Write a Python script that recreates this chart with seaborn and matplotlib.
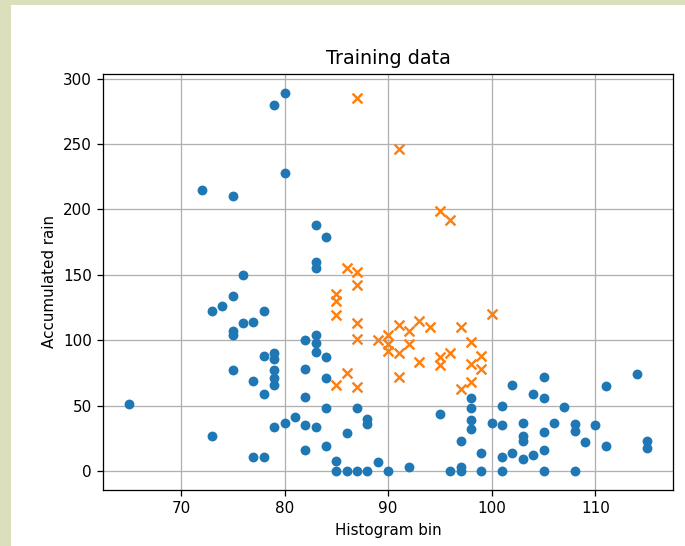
import matplotlib
matplotlib.use('Agg')
import matplotlib.pyplot as plt
from matplotlib.patches import Rectangle
import seaborn as sns

# class 0 (no rain event) - blue dots
blue_x = [79, 80, 80, 72, 75, 76,
          75, 74, 73, 78, 76, 77, 75, 75,
          78, 79, 79, 79, 79, 79, 75, 77, 78,
          65, 73, 79, 80, 77, 78,
          83, 84, 83, 83,
          82, 83, 83, 83, 84, 82, 84, 82, 84, 87, 88, 88, 81, 82, 83, 86,
          82, 84, 85, 85, 86, 87, 88, 89, 90, 92,
          95, 96, 97, 97, 98, 98, 98, 98, 97, 99, 99,
          100, 101, 101, 101, 101, 102, 102, 103, 103, 103, 103,
          104, 104, 105, 105, 105, 105, 105, 106, 107, 108, 108, 108,
          109, 110, 111, 111, 114, 115, 115]
blue_y = [280, 289, 228, 215, 210, 150,
          134, 126, 122, 122, 113, 114, 107, 104,
          88, 90, 86, 77, 71, 66, 77, 69, 59,
          51, 27, 34, 37, 11, 11,
          188, 179, 160, 155,
          100, 104, 98, 91, 87, 78, 71, 57, 48, 48, 40, 36, 41, 35, 34, 29,
          16, 19, 8, 0, 0, 0, 0, 7, 0, 3,
          44, 0, 0, 3, 56, 48, 39, 32, 23, 14, 0,
          37, 50, 35, 11, 0, 66, 14, 37, 27, 23, 9,
          59, 12, 72, 56, 30, 16, 0, 37, 49, 36, 31, 0,
          22, 35, 65, 19, 74, 23, 18]

# class 1 (rain event) - orange crosses
orange_x = [87, 91, 95, 96, 86, 87, 87, 85, 85, 85, 87, 87,
            86, 85, 87, 89, 90, 90, 90, 91, 92, 93, 94, 92, 91, 93, 91,
            95, 95, 96, 97, 98, 98, 98, 97, 100, 99, 99]
orange_y = [285, 246, 199, 192, 155, 152, 142, 135, 130, 119, 113, 101,
            75, 66, 64, 100, 104, 97, 92, 112, 107, 115, 110, 97, 90, 83, 72,
            87, 81, 90, 110, 99, 82, 68, 63, 120, 88, 78]

fig = plt.figure(figsize=(685 / 115, 546 / 115), dpi=115)
fig.patch.set_facecolor('#dcdfbb')
fig.patches.append(Rectangle((11 / 685, 0), 1, 541 / 546, transform=fig.transFigure,
                             facecolor='white', edgecolor='none', zorder=-1))

ax = fig.add_axes([103.3 / 685, 56 / 546, (673 - 103.3) / 685, (490 - 74) / 546])
sns.scatterplot(x=blue_x, y=blue_y, ax=ax, color='tab:blue', marker='o',
                s=38, linewidth=0)
sns.scatterplot(x=orange_x, y=orange_y, ax=ax, color='tab:orange', marker='x',
                s=38, linewidth=1.5)

ax.grid(True)
ax.set_axisbelow(True)
ax.set_xticks([70, 80, 90, 100, 110])
ax.set_yticks([0, 50, 100, 150, 200, 250, 300])
ax.tick_params(labelsize=9.5)
ax.set_title('Training data')
ax.set_xlabel('Histogram bin', fontsize=9.5)
ax.set_ylabel('Accumulated rain', fontsize=9.5)

fig.savefig('out.png', dpi=115, facecolor=fig.get_facecolor())
